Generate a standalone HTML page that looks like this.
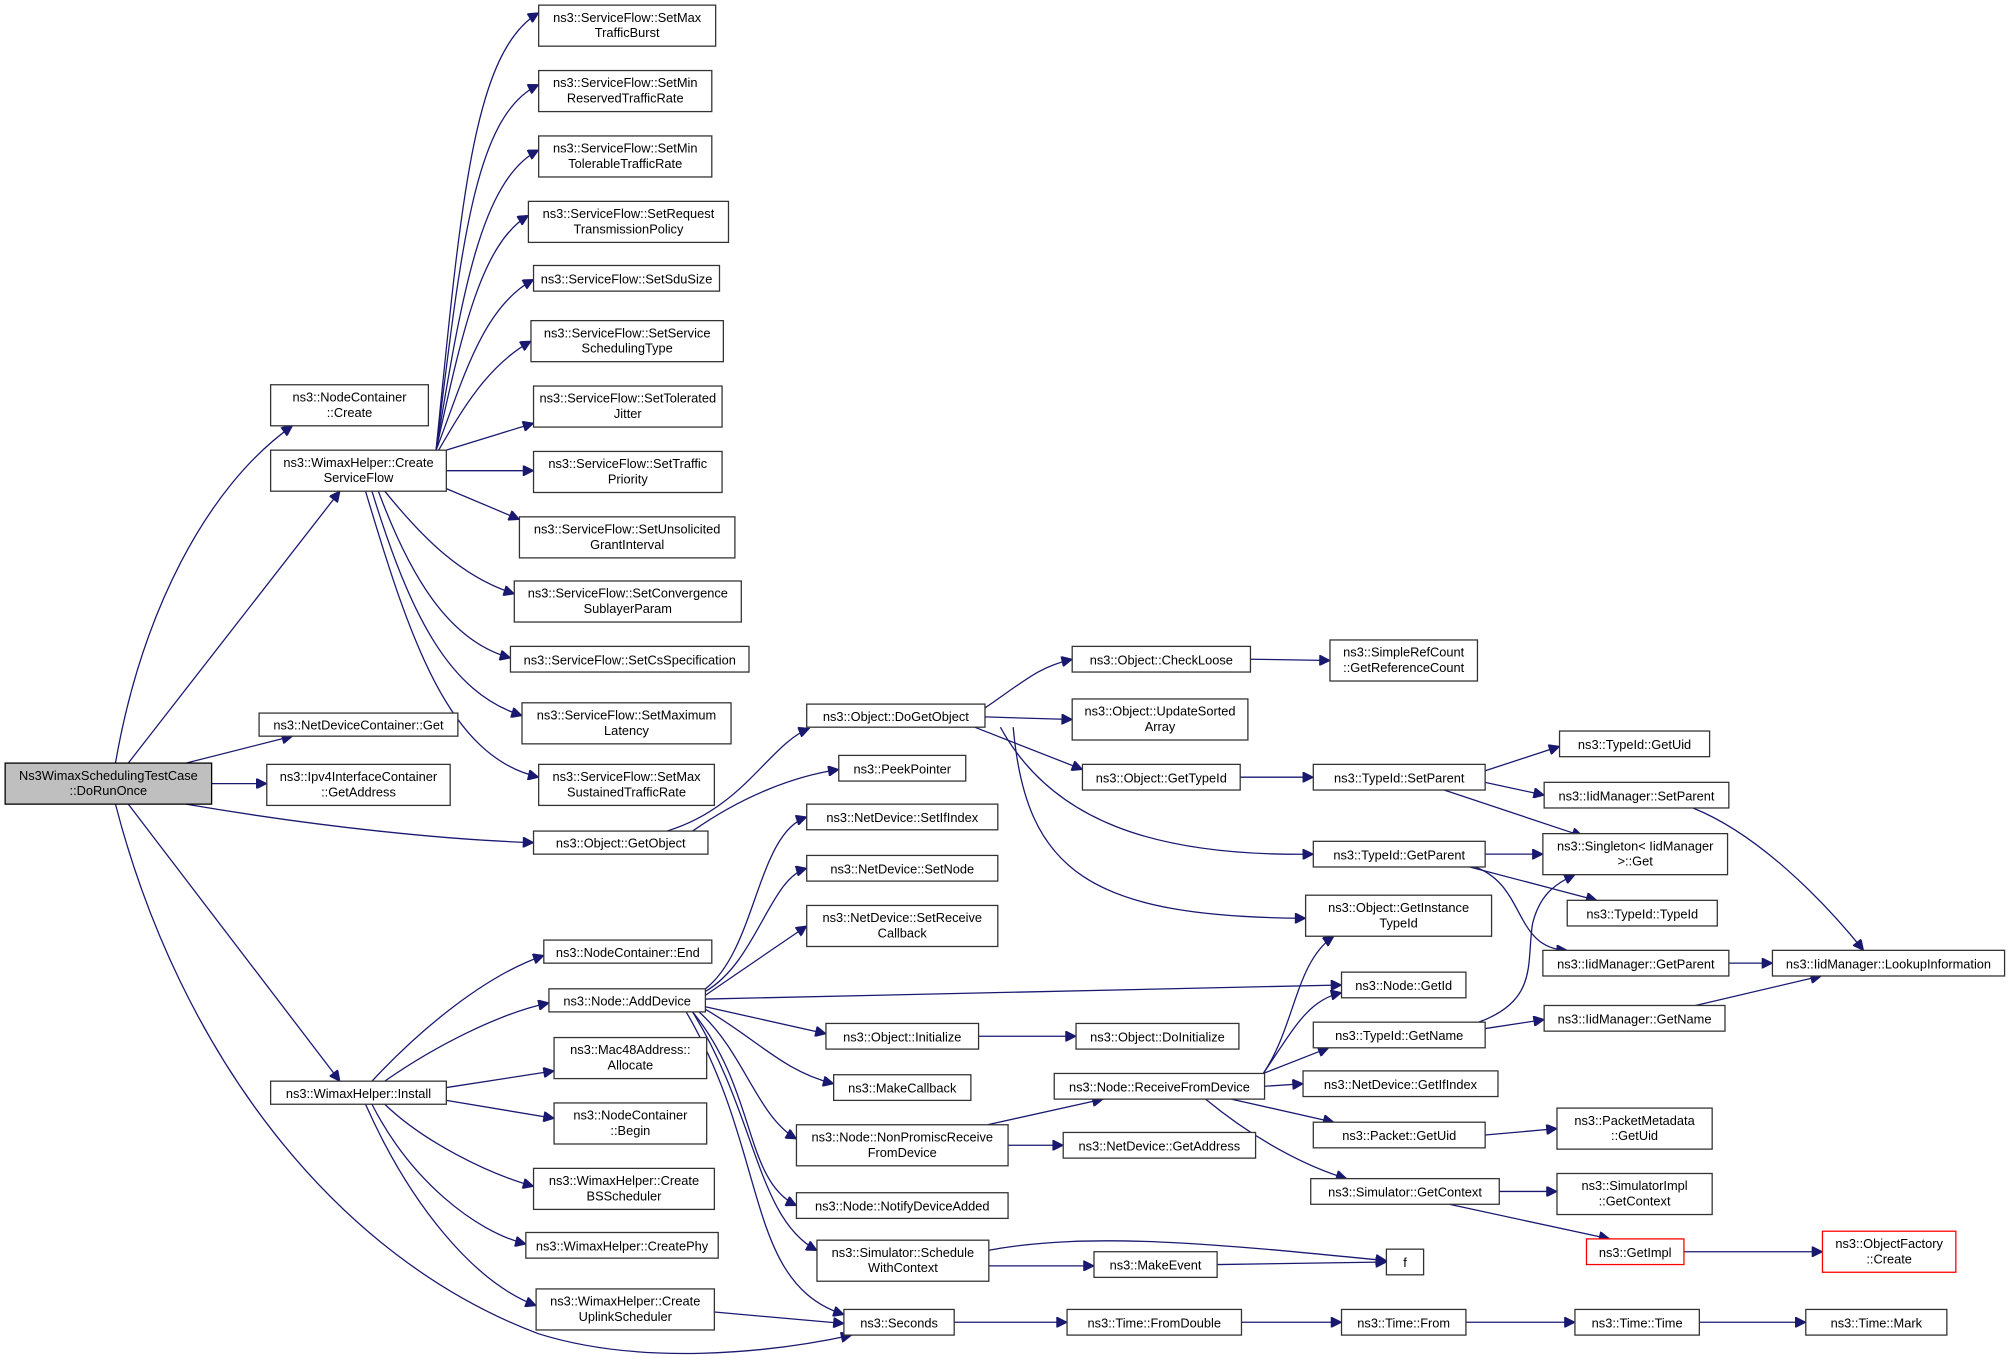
<!DOCTYPE html>
<html><head><meta charset="utf-8"><style>
html,body{margin:0;padding:0;background:#fff;width:2011px;height:1371px;overflow:hidden}
svg{display:block}
text{font-family:"Liberation Sans",Arial,sans-serif;font-size:10px;fill:#000;text-anchor:middle}
.n{fill:#fff;stroke:#333;stroke-width:1}
.e{fill:none;stroke:#191970;stroke-width:1}
</style></head><body>
<svg width="2011" height="1371" viewBox="0 0 1568 1069" xmlns="http://www.w3.org/2000/svg">
<defs><marker id="a" viewBox="0 0 10 10" refX="10" refY="5" markerWidth="11" markerHeight="8" markerUnits="userSpaceOnUse" orient="auto"><path d="M0,0 L10,5 L0,10 z" fill="#191970" stroke="#191970"/></marker></defs>
<g class="edges">
<path class="e" marker-end="url(#a)" d="M90 595 C110 480 160 380 228 332"/>
<path class="e" marker-end="url(#a)" d="M100 595 L265 383"/>
<path class="e" marker-end="url(#a)" d="M145 595 L228 574"/>
<path class="e" marker-end="url(#a)" d="M165 611 L208 611"/>
<path class="e" marker-end="url(#a)" d="M145 627 C250 645 350 655 416 657"/>
<path class="e" marker-end="url(#a)" d="M100 627 L265 843"/>
<path class="e" marker-end="url(#a)" d="M90 627 C140 820 260 980 420 1040 C500 1065 600 1055 664 1041"/>
<path class="e" marker-end="url(#a)" d="M340 351 C360 150 370 40 420 10"/>
<path class="e" marker-end="url(#a)" d="M340 351 C360 190 370 90 420 66"/>
<path class="e" marker-end="url(#a)" d="M340 351 C360 230 375 140 420 117"/>
<path class="e" marker-end="url(#a)" d="M340 351 C360 260 375 190 412 168"/>
<path class="e" marker-end="url(#a)" d="M340 351 C360 300 375 240 416 218"/>
<path class="e" marker-end="url(#a)" d="M342 351 C360 320 380 285 414 266"/>
<path class="e" marker-end="url(#a)" d="M348 351 L416 330"/>
<path class="e" marker-end="url(#a)" d="M348 367 L416 367"/>
<path class="e" marker-end="url(#a)" d="M348 381 L405 405"/>
<path class="e" marker-end="url(#a)" d="M300 383 C330 420 360 450 401 463"/>
<path class="e" marker-end="url(#a)" d="M295 383 C320 450 350 500 398 513"/>
<path class="e" marker-end="url(#a)" d="M290 383 C320 480 350 540 407 558"/>
<path class="e" marker-end="url(#a)" d="M285 383 C320 500 350 590 420 606"/>
<path class="e" marker-end="url(#a)" d="M290 843 C330 800 380 760 424 745"/>
<path class="e" marker-end="url(#a)" d="M300 843 C340 815 390 790 428 782"/>
<path class="e" marker-end="url(#a)" d="M348 848 L432 835"/>
<path class="e" marker-end="url(#a)" d="M348 858 L432 872"/>
<path class="e" marker-end="url(#a)" d="M300 861 C330 890 380 915 416 925"/>
<path class="e" marker-end="url(#a)" d="M290 861 C320 920 370 960 410 970"/>
<path class="e" marker-end="url(#a)" d="M285 861 C320 940 370 1000 418 1018"/>
<path class="e" marker-end="url(#a)" d="M557 1023 L658 1032"/>
<path class="e" marker-end="url(#a)" d="M520 648 C580 630 600 580 631 568"/>
<path class="e" marker-end="url(#a)" d="M540 648 C580 620 620 605 654 600"/>
<path class="e" marker-end="url(#a)" d="M550 771 C590 740 590 650 629 637"/>
<path class="e" marker-end="url(#a)" d="M550 773 C590 750 600 685 629 677"/>
<path class="e" marker-end="url(#a)" d="M550 776 L629 722"/>
<path class="e" marker-end="url(#a)" d="M550 779 L1046 768"/>
<path class="e" marker-end="url(#a)" d="M550 785 L644 806"/>
<path class="e" marker-end="url(#a)" d="M550 787 C590 810 610 835 650 845"/>
<path class="e" marker-end="url(#a)" d="M545 789 C580 820 590 870 621 888"/>
<path class="e" marker-end="url(#a)" d="M540 789 C590 850 580 920 621 940"/>
<path class="e" marker-end="url(#a)" d="M540 789 C590 870 590 950 637 975"/>
<path class="e" marker-end="url(#a)" d="M535 789 C600 900 580 1000 658 1025"/>
<path class="e" marker-end="url(#a)" d="M768 552 C800 530 810 520 836 514"/>
<path class="e" marker-end="url(#a)" d="M768 559 L836 561"/>
<path class="e" marker-end="url(#a)" d="M760 567 L844 600"/>
<path class="e" marker-end="url(#a)" d="M780 567 C820 640 900 668 1024 666"/>
<path class="e" marker-end="url(#a)" d="M790 567 C800 680 850 715 1018 716"/>
<path class="e" marker-end="url(#a)" d="M975 514 L1037 515"/>
<path class="e" marker-end="url(#a)" d="M967 606 L1024 606"/>
<path class="e" marker-end="url(#a)" d="M1158 601 L1216 582"/>
<path class="e" marker-end="url(#a)" d="M1158 610 L1204 620"/>
<path class="e" marker-end="url(#a)" d="M1126 616 L1234 652"/>
<path class="e" marker-end="url(#a)" d="M1158 666 L1203 666"/>
<path class="e" marker-end="url(#a)" d="M1146 676 L1245 702"/>
<path class="e" marker-end="url(#a)" d="M1150 676 C1190 690 1180 740 1222 741"/>
<path class="e" marker-end="url(#a)" d="M1320 630 C1370 650 1420 700 1453 741"/>
<path class="e" marker-end="url(#a)" d="M1348 751 L1382 751"/>
<path class="e" marker-end="url(#a)" d="M1322 784 L1420 761"/>
<path class="e" marker-end="url(#a)" d="M1158 802 L1204 795"/>
<path class="e" marker-end="url(#a)" d="M1153 797 C1200 780 1190 750 1195 720 C1200 700 1210 690 1228 682"/>
<path class="e" marker-end="url(#a)" d="M985 837 C1010 800 1010 750 1040 730"/>
<path class="e" marker-end="url(#a)" d="M985 837 C1010 800 1020 780 1046 774"/>
<path class="e" marker-end="url(#a)" d="M985 837 L1036 817"/>
<path class="e" marker-end="url(#a)" d="M986 847 L1016 845"/>
<path class="e" marker-end="url(#a)" d="M960 857 L1040 875"/>
<path class="e" marker-end="url(#a)" d="M940 857 C980 890 1020 910 1050 919"/>
<path class="e" marker-end="url(#a)" d="M770 877 L860 857"/>
<path class="e" marker-end="url(#a)" d="M786 893 L829 893"/>
<path class="e" marker-end="url(#a)" d="M763 808 L839 808"/>
<path class="e" marker-end="url(#a)" d="M1158 885 L1214 880"/>
<path class="e" marker-end="url(#a)" d="M1169 929 L1214 929"/>
<path class="e" marker-end="url(#a)" d="M1130 939 L1255 966"/>
<path class="e" marker-end="url(#a)" d="M1313 976 L1421 976"/>
<path class="e" marker-end="url(#a)" d="M770 975 C850 960 950 970 1081 983"/>
<path class="e" marker-end="url(#a)" d="M771 987 L853 987"/>
<path class="e" marker-end="url(#a)" d="M949 986 L1081 984"/>
<path class="e" marker-end="url(#a)" d="M744 1031 L832 1031"/>
<path class="e" marker-end="url(#a)" d="M968 1031 L1046 1031"/>
<path class="e" marker-end="url(#a)" d="M1143 1031 L1228 1031"/>
<path class="e" marker-end="url(#a)" d="M1325 1031 L1408 1031"/>
</g>
<g>
<rect x="4" y="595" width="161" height="32" fill="#bfbfbf" stroke="#000"/><text x="84.5" y="608">Ns3WimaxSchedulingTestCase</text><text x="84.5" y="620">::DoRunOnce</text>
<rect class="n" x="420" y="4" width="138" height="32"/><text x="489" y="17">ns3::ServiceFlow::SetMax</text><text x="489" y="29">TrafficBurst</text>
<rect class="n" x="420" y="55" width="135" height="32"/><text x="487.5" y="68">ns3::ServiceFlow::SetMin</text><text x="487.5" y="80">ReservedTrafficRate</text>
<rect class="n" x="420" y="106" width="135" height="32"/><text x="487.5" y="119">ns3::ServiceFlow::SetMin</text><text x="487.5" y="131">TolerableTrafficRate</text>
<rect class="n" x="412" y="157" width="156" height="32"/><text x="490" y="170">ns3::ServiceFlow::SetRequest</text><text x="490" y="182">TransmissionPolicy</text>
<rect class="n" x="416" y="207" width="145" height="20"/><text x="488.5" y="221">ns3::ServiceFlow::SetSduSize</text>
<rect class="n" x="414" y="250" width="150" height="32"/><text x="489" y="263">ns3::ServiceFlow::SetService</text><text x="489" y="275">SchedulingType</text>
<rect class="n" x="416" y="301" width="147" height="32"/><text x="489.5" y="314">ns3::ServiceFlow::SetTolerated</text><text x="489.5" y="326">Jitter</text>
<rect class="n" x="416" y="352" width="147" height="32"/><text x="489.5" y="365">ns3::ServiceFlow::SetTraffic</text><text x="489.5" y="377">Priority</text>
<rect class="n" x="405" y="403" width="168" height="32"/><text x="489" y="416">ns3::ServiceFlow::SetUnsolicited</text><text x="489" y="428">GrantInterval</text>
<rect class="n" x="401" y="453" width="177" height="32"/><text x="489.5" y="466">ns3::ServiceFlow::SetConvergence</text><text x="489.5" y="478">SublayerParam</text>
<rect class="n" x="398" y="504" width="186" height="20"/><text x="491" y="518">ns3::ServiceFlow::SetCsSpecification</text>
<rect class="n" x="407" y="548" width="163" height="32"/><text x="488.5" y="561">ns3::ServiceFlow::SetMaximum</text><text x="488.5" y="573">Latency</text>
<rect class="n" x="420" y="596" width="137" height="32"/><text x="488.5" y="609">ns3::ServiceFlow::SetMax</text><text x="488.5" y="621">SustainedTrafficRate</text>
<rect class="n" x="211" y="300" width="123" height="32"/><text x="272.5" y="313">ns3::NodeContainer</text><text x="272.5" y="325">::Create</text>
<rect class="n" x="211" y="351" width="137" height="32"/><text x="279.5" y="364">ns3::WimaxHelper::Create</text><text x="279.5" y="376">ServiceFlow</text>
<rect class="n" x="202" y="556" width="155" height="18"/><text x="279.5" y="569">ns3::NetDeviceContainer::Get</text>
<rect class="n" x="208" y="596" width="143" height="32"/><text x="279.5" y="609">ns3::Ipv4InterfaceContainer</text><text x="279.5" y="621">::GetAddress</text>
<rect class="n" x="211" y="843" width="137" height="18"/><text x="279.5" y="856">ns3::WimaxHelper::Install</text>
<rect class="n" x="416" y="648" width="136" height="18"/><text x="484" y="661">ns3::Object::GetObject</text>
<rect class="n" x="424" y="733" width="131" height="18"/><text x="489.5" y="746">ns3::NodeContainer::End</text>
<rect class="n" x="428" y="771" width="122" height="18"/><text x="489" y="784">ns3::Node::AddDevice</text>
<rect class="n" x="432" y="809" width="119" height="32"/><text x="491.5" y="822">ns3::Mac48Address::</text><text x="491.5" y="834">Allocate</text>
<rect class="n" x="432" y="860" width="119" height="32"/><text x="491.5" y="873">ns3::NodeContainer</text><text x="491.5" y="885">::Begin</text>
<rect class="n" x="416" y="911" width="141" height="32"/><text x="486.5" y="924">ns3::WimaxHelper::Create</text><text x="486.5" y="936">BSScheduler</text>
<rect class="n" x="410" y="961" width="150" height="20"/><text x="485" y="975">ns3::WimaxHelper::CreatePhy</text>
<rect class="n" x="418" y="1005" width="139" height="32"/><text x="487.5" y="1018">ns3::WimaxHelper::Create</text><text x="487.5" y="1030">UplinkScheduler</text>
<rect class="n" x="629" y="549" width="139" height="18"/><text x="698.5" y="562">ns3::Object::DoGetObject</text>
<rect class="n" x="654" y="589" width="99" height="20"/><text x="703.5" y="603">ns3::PeekPointer</text>
<rect class="n" x="629" y="627" width="149" height="20"/><text x="703.5" y="641">ns3::NetDevice::SetIfIndex</text>
<rect class="n" x="629" y="667" width="149" height="20"/><text x="703.5" y="681">ns3::NetDevice::SetNode</text>
<rect class="n" x="629" y="706" width="149" height="32"/><text x="703.5" y="719">ns3::NetDevice::SetReceive</text><text x="703.5" y="731">Callback</text>
<rect class="n" x="644" y="798" width="119" height="20"/><text x="703.5" y="812">ns3::Object::Initialize</text>
<rect class="n" x="650" y="838" width="107" height="20"/><text x="703.5" y="852">ns3::MakeCallback</text>
<rect class="n" x="621" y="877" width="165" height="32"/><text x="703.5" y="890">ns3::Node::NonPromiscReceive</text><text x="703.5" y="902">FromDevice</text>
<rect class="n" x="621" y="930" width="165" height="20"/><text x="703.5" y="944">ns3::Node::NotifyDeviceAdded</text>
<rect class="n" x="637" y="967" width="134" height="32"/><text x="704" y="980">ns3::Simulator::Schedule</text><text x="704" y="992">WithContext</text>
<rect class="n" x="658" y="1021" width="86" height="20"/><text x="701" y="1035">ns3::Seconds</text>
<rect class="n" x="836" y="504" width="139" height="20"/><text x="905.5" y="518">ns3::Object::CheckLoose</text>
<rect class="n" x="836" y="545" width="137" height="32"/><text x="904.5" y="558">ns3::Object::UpdateSorted</text><text x="904.5" y="570">Array</text>
<rect class="n" x="844" y="596" width="123" height="20"/><text x="905.5" y="610">ns3::Object::GetTypeId</text>
<rect class="n" x="839" y="798" width="127" height="20"/><text x="902.5" y="812">ns3::Object::DoInitialize</text>
<rect class="n" x="822" y="837" width="164" height="20"/><text x="904" y="851">ns3::Node::ReceiveFromDevice</text>
<rect class="n" x="829" y="883" width="150" height="20"/><text x="904" y="897">ns3::NetDevice::GetAddress</text>
<rect class="n" x="853" y="976" width="96" height="20"/><text x="901" y="990">ns3::MakeEvent</text>
<rect class="n" x="832" y="1021" width="136" height="20"/><text x="900" y="1035">ns3::Time::FromDouble</text>
<rect class="n" x="1037" y="499" width="115" height="32"/><text x="1094.5" y="512">ns3::SimpleRefCount</text><text x="1094.5" y="524">::GetReferenceCount</text>
<rect class="n" x="1024" y="596" width="134" height="20"/><text x="1091" y="610">ns3::TypeId::SetParent</text>
<rect class="n" x="1024" y="656" width="134" height="20"/><text x="1091" y="670">ns3::TypeId::GetParent</text>
<rect class="n" x="1018" y="698" width="145" height="32"/><text x="1090.5" y="711">ns3::Object::GetInstance</text><text x="1090.5" y="723">TypeId</text>
<rect class="n" x="1046" y="758" width="97" height="20"/><text x="1094.5" y="772">ns3::Node::GetId</text>
<rect class="n" x="1024" y="797" width="134" height="20"/><text x="1091" y="811">ns3::TypeId::GetName</text>
<rect class="n" x="1016" y="835" width="152" height="20"/><text x="1092" y="849">ns3::NetDevice::GetIfIndex</text>
<rect class="n" x="1024" y="875" width="134" height="20"/><text x="1091" y="889">ns3::Packet::GetUid</text>
<rect class="n" x="1022" y="919" width="147" height="20"/><text x="1095.5" y="933">ns3::Simulator::GetContext</text>
<rect class="n" x="1081" y="974" width="29" height="20"/><text x="1095.5" y="988">f</text>
<rect class="n" x="1046" y="1021" width="97" height="20"/><text x="1094.5" y="1035">ns3::Time::From</text>
<rect class="n" x="1216" y="570" width="117" height="20"/><text x="1274.5" y="584">ns3::TypeId::GetUid</text>
<rect class="n" x="1204" y="610" width="144" height="20"/><text x="1276" y="624">ns3::IidManager::SetParent</text>
<rect class="n" x="1203" y="650" width="144" height="32"/><text x="1275" y="663">ns3::Singleton&lt; IidManager</text><text x="1275" y="675">&gt;::Get</text>
<rect class="n" x="1222" y="702" width="117" height="20"/><text x="1280.5" y="716">ns3::TypeId::TypeId</text>
<rect class="n" x="1203" y="741" width="145" height="20"/><text x="1275.5" y="755">ns3::IidManager::GetParent</text>
<rect class="n" x="1204" y="784" width="141" height="20"/><text x="1274.5" y="798">ns3::IidManager::GetName</text>
<rect class="n" x="1214" y="864" width="121" height="32"/><text x="1274.5" y="877">ns3::PacketMetadata</text><text x="1274.5" y="889">::GetUid</text>
<rect class="n" x="1214" y="915" width="121" height="32"/><text x="1274.5" y="928">ns3::SimulatorImpl</text><text x="1274.5" y="940">::GetContext</text>
<rect x="1237" y="966" width="76" height="20" fill="#fff" stroke="#f00"/><text x="1275" y="980">ns3::GetImpl</text>
<rect class="n" x="1228" y="1021" width="97" height="20"/><text x="1276.5" y="1035">ns3::Time::Time</text>
<rect class="n" x="1382" y="741" width="181" height="20"/><text x="1472.5" y="755">ns3::IidManager::LookupInformation</text>
<rect x="1421" y="960" width="104" height="32" fill="#fff" stroke="#f00"/><text x="1473" y="973">ns3::ObjectFactory</text><text x="1473" y="985">::Create</text>
<rect class="n" x="1408" y="1021" width="110" height="20"/><text x="1463" y="1035">ns3::Time::Mark</text>
</g>
</svg>
</body></html>
